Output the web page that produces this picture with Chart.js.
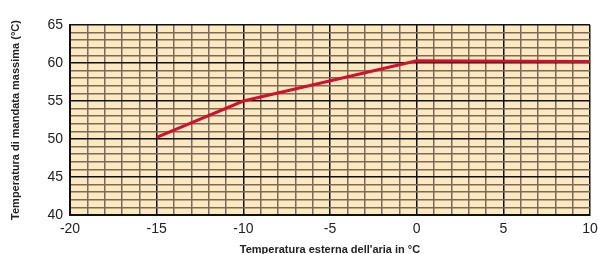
<!DOCTYPE html>
<html>
<head>
<meta charset="utf-8">
<script src="https://cdn.jsdelivr.net/npm/chart.js@4/dist/chart.umd.min.js"></script>
<style>
  html, body { margin: 0; padding: 0; background: #fff; }
  #wrap { width: 598px; height: 254px; }
</style>
</head>
<body>
<div id="wrap"><canvas id="chart"></canvas></div>
<script>
// Curve points: outside air temperature (°C) vs max flow temperature (°C)
const outsideTemps = [-15, -10, 0, 10];
const flowTemps = [50.2, 55, 60.3, 60.2];

const xMin = -20, xMax = 10;
const yMin = 40, yMax = 65;

// paints the yellow paper behind the grid
const paperBg = {
    id: 'paperBg',
    beforeDraw(chart) {
        const a = chart.chartArea;
        const ctx = chart.ctx;
        ctx.save();
        ctx.fillStyle = '#fde9c1';
        ctx.fillRect(a.left, a.top, a.right - a.left, a.bottom - a.top);
        ctx.restore();
    }
};

function gridColor(c) {
    return (c.tick && c.tick.value % 5 === 0) ? '#111' : '#7a6a56';
}

const ctx = document.getElementById('chart').getContext('2d');
new Chart(ctx, {
    type: 'scatter',
    data: {
        datasets: [{
            data: outsideTemps.map((x, i) => ({ x: x, y: flowTemps[i] })),
            showLine: true,
            borderColor: '#d2102c',
            borderWidth: 3,
            pointRadius: 0,
            fill: false
        }]
    },
    options: {
        responsive: true,
        maintainAspectRatio: false,
        animation: false,
        layout: { padding: { top: 25, right: 0, left: 0, bottom: 0 } },
        plugins: {
            legend: { display: false },
            tooltip: { enabled: false }
        },
        scales: {
            x: {
                type: 'linear',
                min: xMin,
                max: xMax,
                afterFit: s => { s.height = 39; s.paddingRight = 8; },
                border: { color: '#111', width: 2 },
                grid: { color: gridColor, lineWidth: 1.5, drawTicks: false },
                ticks: {
                    stepSize: 1,
                    autoSkip: false,
                    maxRotation: 0,
                    padding: 6,
                    color: '#222',
                    font: { family: 'Liberation Sans', size: 14 },
                    callback: v => (v % 5 === 0 ? v : '')
                },
                title: {
                    display: true,
                    text: "Temperatura esterna dell'aria in °C",
                    color: '#222',
                    padding: { top: 4, bottom: -3 },
                    font: { family: 'Liberation Sans', size: 11, weight: 'bold' }
                }
            },
            y: {
                min: yMin,
                max: yMax,
                afterFit: s => { s.width = 70; },
                border: { color: '#111', width: 2 },
                grid: { color: gridColor, lineWidth: 1.5, drawTicks: false },
                ticks: {
                    stepSize: 1,
                    autoSkip: false,
                    padding: 7,
                    color: '#222',
                    font: { family: 'Liberation Sans', size: 14 },
                    callback: v => (v % 5 === 0 ? v : '')
                },
                title: {
                    display: true,
                    text: 'Temperatura di mandata massima (°C)',
                    color: '#222',
                    padding: { top: 9, bottom: 0 },
                    font: { family: 'Liberation Sans', size: 11, weight: 'bold' }
                }
            }
        }
    },
    plugins: [paperBg]
});
</script>
</body>
</html>
